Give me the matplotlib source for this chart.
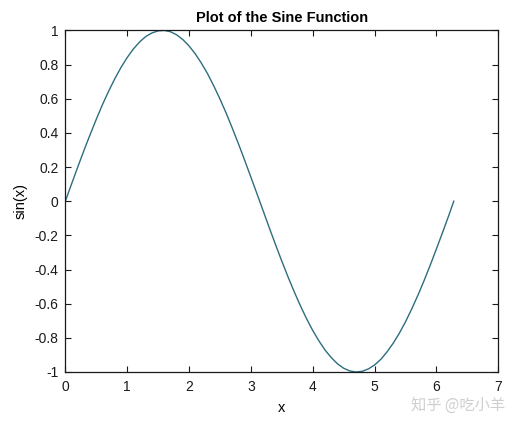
import matplotlib
matplotlib.use("Agg")
import matplotlib.pyplot as plt

x_vals = [0.0, 0.1, 0.2, 0.3, 0.4, 0.5, 0.6, 0.7, 0.8, 0.9,
          1.0, 1.1, 1.2, 1.3, 1.4, 1.5, 1.6, 1.7, 1.8, 1.9,
          2.0, 2.1, 2.2, 2.3, 2.4, 2.5, 2.6, 2.7, 2.8, 2.9,
          3.0, 3.1, 3.2, 3.3, 3.4, 3.5, 3.6, 3.7, 3.8, 3.9,
          4.0, 4.1, 4.2, 4.3, 4.4, 4.5, 4.6, 4.7, 4.8, 4.9,
          5.0, 5.1, 5.2, 5.3, 5.4, 5.5, 5.6, 5.7, 5.8, 5.9,
          6.0, 6.1, 6.2, 6.28]
y_vals = [0.000, 0.100, 0.199, 0.296, 0.389, 0.479, 0.565, 0.644, 0.717, 0.783,
          0.841, 0.891, 0.932, 0.964, 0.985, 0.997, 1.000, 0.992, 0.974, 0.946,
          0.909, 0.863, 0.808, 0.746, 0.675, 0.598, 0.516, 0.427, 0.335, 0.239,
          0.141, 0.042, -0.058, -0.158, -0.256, -0.351, -0.443, -0.530, -0.612, -0.688,
          -0.757, -0.818, -0.872, -0.916, -0.952, -0.978, -0.994, -1.000, -0.996, -0.982,
          -0.959, -0.926, -0.883, -0.832, -0.773, -0.706, -0.631, -0.551, -0.465, -0.374,
          -0.279, -0.182, -0.083, 0.000]
x_ticks = [0, 1, 2, 3, 4, 5, 6, 7]
y_ticks = [-1, -0.8, -0.6, -0.4, -0.2, 0, 0.2, 0.4, 0.6, 0.8, 1]
y_tick_labels = ["-1", "-0.8", "-0.6", "-0.4", "-0.2", "0", "0.2", "0.4", "0.6", "0.8", "1"]

plt.rcParams['font.family'] = ['Liberation Sans', 'DejaVu Sans']

fig = plt.figure(figsize=(5.16, 4.22), dpi=100)
ax = fig.add_axes([0.1266, 0.1185, 0.9657 - 0.1266, 0.928 - 0.1185])
ax.plot(x_vals, y_vals, color='#2c6e7e', linewidth=1.0, solid_joinstyle='round')
ax.set_xlim(0, 7)
ax.set_ylim(-1, 1)
ax.set_xticks(x_ticks)
ax.set_yticks(y_ticks)
ax.set_yticklabels(y_tick_labels)
ax.tick_params(direction='in', top=True, right=True, length=4, width=0.8,
               labelsize=10, colors='#1a1a1a')
ax.tick_params(axis='x', pad=6)
ax.tick_params(axis='y', pad=5)
for s in ax.spines.values():
    s.set_linewidth(0.9)
    s.set_color('#1a1a1a')
ax.set_title('Plot of the Sine Function', fontsize=10.5, fontweight='bold', pad=6)
ax.set_xlabel('x', fontsize=10.5, labelpad=5)
ax.set_ylabel('sin(x)', fontsize=10.5, labelpad=5)

fig.text(0.978, 0.04, '知乎 @吃小羊', fontsize=11, color='#cfcfcf',
         ha='right', va='center', family=['Noto Sans CJK SC', 'DejaVu Sans'])

fig.savefig('out.png', dpi=100)
